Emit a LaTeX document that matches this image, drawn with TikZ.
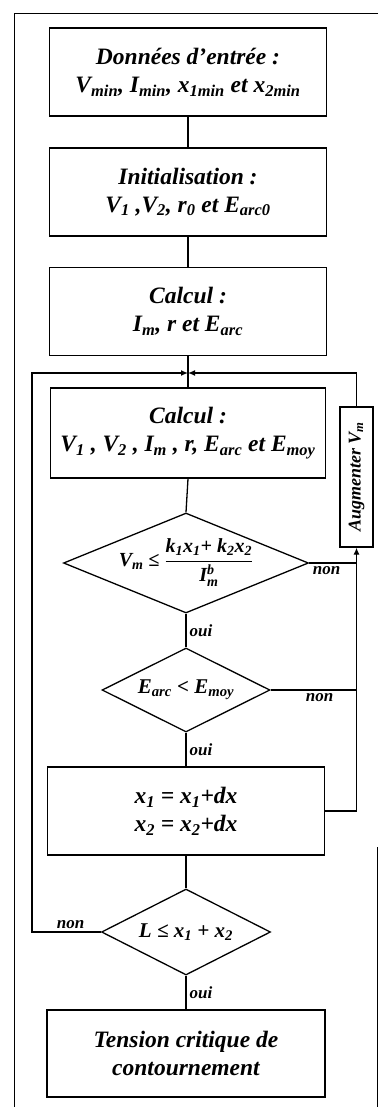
\documentclass[tikz,border=0pt]{standalone}
\usepackage{fontspec}
\setmainfont{Liberation Serif}
\usepackage{amsmath}
\usetikzlibrary{shapes.geometric,arrows.meta}

\newcommand{\sbs}[1]{\textsubscript{#1}}
\newcommand{\dtxt}[1]{\makebox[0pt]{\smash{\raisebox{-.25em}{$\vcenter{\hbox{#1}}$}}}}

\begin{document}
\begin{tikzpicture}[x=1pt,y=-1pt,line width=1.3pt,
	txt/.style={font=\fontsize{23.5}{28}\selectfont\bfseries\itshape},
	box/.style={txt,draw,minimum width=277,minimum height=88,align=center,inner sep=2pt},
	decision/.style={draw,diamond,inner sep=0pt,font=\fontsize{21}{24}\selectfont\bfseries\itshape},
	lbl/.style={font=\fontsize{17}{20}\selectfont\bfseries\itshape,inner sep=3pt},
	arr/.style={-{Latex[length=7pt,width=6pt]}},
	frame/.style={line width=0.9pt}]
	\useasboundingbox (0,0) rectangle (378,1107);
	\draw[frame] (378,13) -| (14,1107);
	\draw[frame] (377,847) -- (377,1107);
	\node[box] (entree) at (188,72)    {Données d’entrée :\\V\sbs{min}, I\sbs{min}, x\sbs{1min} et x\sbs{2min}};
	\node[box] (init)   at (188,192)   {Initialisation :\\V\sbs{1} ,V\sbs{2}, r\sbs{0} et E\sbs{arc0}};
	\node[box] (calc1)  at (188,311.5) {Calcul :\\I\sbs{m}, r et E\sbs{arc}};
	\node[box,minimum width=275,minimum height=90] (calc2) at (188,433)
		{Calcul :\\V\sbs{1} , V\sbs{2} , I\sbs{m} , r, E\sbs{arc} et E\sbs{moy}};
	\node[decision,minimum width=245,minimum height=100,font=\fontsize{20}{24}\selectfont\bfseries\itshape] (dec1) at (186,563)
		{\dtxt{V\sbs{m} ≤ $\dfrac{\text{k\sbs{1}x\sbs{1}+ k\sbs{2}x\sbs{2}}}{\text{I}^{\text{b}}_{\text{m}}}$}};
	\node[decision,minimum width=168,minimum height=84] (dec2) at (186,690) {\dtxt{E\sbs{arc} < E\sbs{moy}}};
	\node[box] (maj)    at (186,811)   {x\sbs{1} = x\sbs{1}+dx\\x\sbs{2} = x\sbs{2}+dx};
	\node[decision,minimum width=169,minimum height=86] (dec3) at (186,932) {\dtxt{L ≤ x\sbs{1} + x\sbs{2}}};
	\node[box,minimum width=278,minimum height=87] (fin) at (186,1053.5) {Tension critique de\\contournement};
	\node[box,rotate=90,minimum width=140,minimum height=33,inner sep=0pt,
		font=\fontsize{18}{20}\selectfont\bfseries\itshape] (augm) at (356.5,477) {Augmenter V\sbs{m}};
	\coordinate (jct) at (188,373);
	\coordinate (lft) at (32,373);
	\draw (entree) -- (init);
	\draw (init) -- (calc1);
	\draw (calc1) -- (calc2);
	\draw (calc2.south) -- (dec1.north);
	\draw (dec1) -- node[lbl,right]{oui} (dec2);
	\draw (dec2) -- node[lbl,right]{oui} (maj);
	\draw (maj) -- (dec3);
	\draw (dec3) -- node[lbl,right]{oui} (fin);
	\draw (dec1.east) -- node[lbl,below,pos=.37]{non} (dec1.east -| augm.west);
	\draw (dec2.east) -- node[lbl,below,pos=.57]{non} (dec2.east -| augm.west);
	\draw[arr] (maj.east) -| (augm.west);
	\draw[arr] (augm.east) |- (jct);
	\draw[arr] (dec3.west) -| node[lbl,above,pos=.22]{non} (lft) -- (jct);
\end{tikzpicture}
\end{document}
